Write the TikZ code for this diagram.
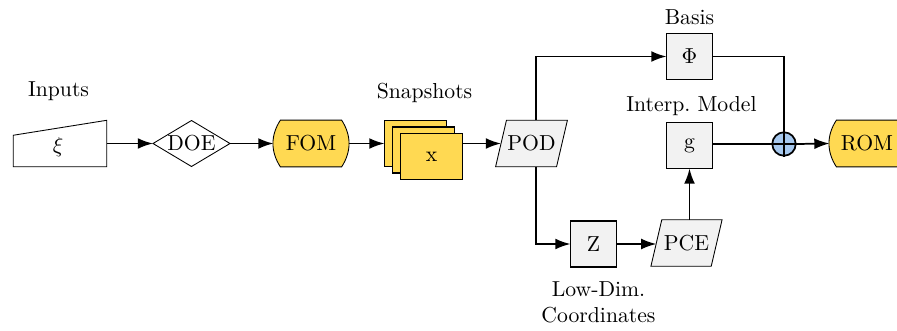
\documentclass[tikz,border=0pt]{standalone}
\usetikzlibrary{arrows.meta,backgrounds}
\definecolor{fomyellow}{RGB}{255,217,82}
\definecolor{boxgray}{RGB}{242,242,242}
\definecolor{sumblue}{RGB}{166,200,238}
\begin{document}
\begin{tikzpicture}[x=0.461pt,y=-0.461pt,line width=0.8pt,
  arr/.style={-{Latex[length=7pt,width=5pt]}},
  ghost/.style={draw=none,inner sep=0pt,outer sep=0pt},
  graybox/.style={draw,fill=boxgray,minimum size=21.2pt,inner sep=0pt,outer sep=0pt},
  model/.style={ghost,minimum width=34.6pt,minimum height=21.6pt},
  snapbox/.style={draw,fill=fomyellow,minimum width=28.6pt,minimum height=21.2pt,inner sep=0pt,outer sep=0pt},
  lab/.style={inner sep=0pt,align=center},
  slanted/.style={draw,fill=boxgray},
  modelshape/.style={draw,fill=fomyellow}]
\useasboundingbox (0,0) rectangle (897,331);

% labels
\node[lab] (inlab) at (58.5,91) {Inputs};
\node[lab] (snaplab) at (424.5,93) {Snapshots};
\node[lab] (basislab) at (689.5,17) {Basis};
\node[lab] (intlab) at (691.5,106) {Interp.\ Model};
\node[lab] (ldlab) at (598.5,302) {Low-Dim.\\Coordinates};

% nodes
\node[ghost,minimum width=43.1pt,minimum height=21.4pt] (inp) at (60,143.5) {};
\node[inner sep=0pt] (xi) at (58,147.5) {$\xi$};
\node[ghost,minimum width=35.5pt,minimum height=21.2pt] (doe) at (191.5,143.5) {DOE};
\node[model] (fom) at (311,143.5) {FOM};
\node[snapbox] (s1) at (415.5,143.5) {};
\node[snapbox] (s2) at (423.5,150) {};
\node[snapbox] (s3) at (431.5,156.5) {x};
\node[ghost,minimum width=28.1pt,minimum height=21.4pt] (pod) at (531.5,143.5) {POD};
\node[graybox] (phi) at (689.5,56.5) {$\Phi$};
\node[graybox] (g) at (689.5,145.5) {g};
\node[draw,circle,fill=sumblue,minimum size=10.8pt,inner sep=0pt] (sum) at (784,144) {};
\node[model] (rom) at (867,143.5) {ROM};
\node[graybox] (z) at (593.5,244) {Z};
\node[ghost,minimum width=27.8pt,minimum height=21.4pt] (pce) at (686.5,243) {PCE};

% custom outlines
\begin{scope}[on background layer]
  \draw[fill=white] (inp.south west) -- (inp.south east) -- (inp.north east)
    -- ([yshift=-6.9pt]inp.north west) -- cycle;
  \draw[fill=white] (doe.west) -- (doe.north) -- (doe.east) -- (doe.south) -- cycle;
  \draw[slanted] ([xshift=-2.5pt]pod.south west) -- ([xshift=-2.5pt]pod.south east)
    -- ([xshift=2.5pt]pod.north east) -- ([xshift=2.5pt]pod.north west) -- cycle;
  \draw[slanted] ([xshift=-2.5pt]pce.south west) -- ([xshift=-2.5pt]pce.south east)
    -- ([xshift=2.5pt]pce.north east) -- ([xshift=2.5pt]pce.north west) -- cycle;
  \foreach \m in {fom,rom}{
    \draw[modelshape] ([xshift=3.2pt]\m.north west) -- ([xshift=-3.2pt]\m.north east)
      to[bend left=33] ([xshift=-3.2pt]\m.south east)
      -- ([xshift=3.2pt]\m.south west)
      to[bend left=33] cycle;
  }
\end{scope}

\coordinate (ptop) at (536,56.5);
\coordinate (pbot) at (536,244);

% connectors
\draw[arr] (inp.east) -- (doe.west);
\draw[arr] (doe.east) -- (fom.west);
\draw[arr] (fom.east) -- (s1.west);
\draw[arr] (s3.east |- pod.west) -- (pod.west);
\draw[arr] (pod.north -| ptop) -- (ptop) -- (phi.west);
\draw[arr] (pod.south -| pbot) -- (pbot) -- (z.west);
\draw[arr] (z.east) -- (z.east -| pce.west);
\draw[arr] (g.south |- pce.north) -- (g.south);
\draw (phi.east) -| (sum.north);
\draw (g.east |- sum.west) -- (sum.west);
\draw (sum.north) -- (sum.south) (sum.west) -- (sum.east);
\draw[arr] (sum.east) -- (rom.west);
\end{tikzpicture}
\end{document}
